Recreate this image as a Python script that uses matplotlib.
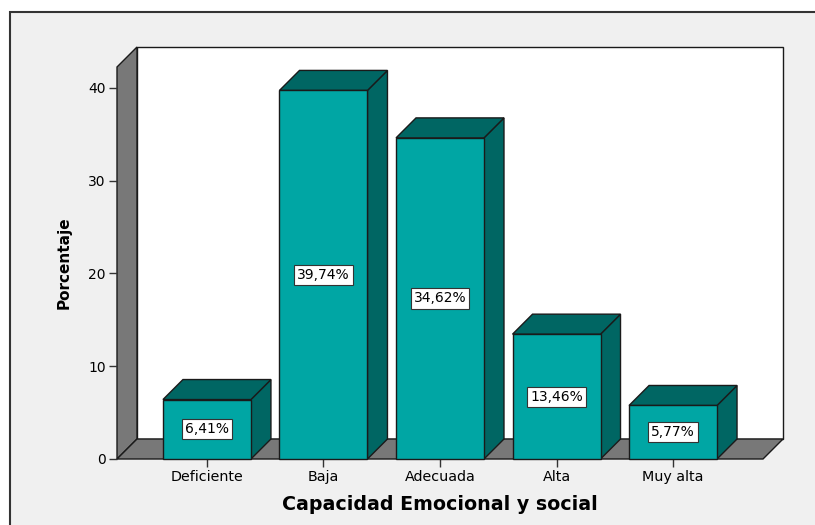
import matplotlib
matplotlib.use("Agg")
import matplotlib.pyplot as plt
from matplotlib.patches import Polygon, Rectangle

plt.rcParams['font.family'] = ['DejaVu Sans']

categories = ['Deficiente', 'Baja', 'Adecuada', 'Alta', 'Muy alta']
values = [6.41, 39.74, 34.62, 13.46, 5.77]
labels = ['6,41%', '39,74%', '34,62%', '13,46%', '5,77%']
yticks = [0, 10, 20, 30, 40]

W, H = 815, 525
C_FRONT = '#00a6a4'
C_DARK = '#006663'
C_WALL = '#787878'
C_BG = '#f0f0f0'
EDGE = '#1a1a1a'

# pixel geometry of the front plane
px_left, px_right, px_bottom, px_top = 117, 763, 459, 67
px_per_unit = 92.75 / 10
xmin, xmax = -0.772, 4.772
ytop = (px_bottom - px_top) / px_per_unit
dx = 20 / ((px_right - px_left) / (xmax - xmin))
dy = 20 / px_per_unit
bw = 0.755

fig = plt.figure(figsize=(W / 100, H / 100), dpi=100)
fig.patch.set_facecolor('white')
fig.add_artist(Rectangle((10 / W, -0.01), 1.0, (H - 12) / H + 0.01,
                         transform=fig.transFigure, fc=C_BG, ec='#333333',
                         lw=1.5, zorder=-10))

ax = fig.add_axes([px_left / W, (H - px_bottom) / H,
                   (px_right - px_left) / W, (px_bottom - px_top) / H])
ax.set_xlim(xmin, xmax)
ax.set_ylim(0, ytop)
ax.patch.set_visible(False)
for s in ax.spines.values():
    s.set_visible(False)


def poly(pts, fc, z=1):
    ax.add_patch(Polygon(pts, closed=True, fc=fc, ec=EDGE, lw=1.0,
                         clip_on=False, zorder=z, joinstyle='miter'))


# back wall, left wall, floor
poly([(xmin + dx, dy), (xmax + dx, dy), (xmax + dx, ytop + dy), (xmin + dx, ytop + dy)], 'white', 0)
poly([(xmin, 0), (xmin + dx, dy), (xmin + dx, ytop + dy), (xmin, ytop)], C_WALL, 1)
poly([(xmin, 0), (xmax, 0), (xmax + dx, dy), (xmin + dx, dy)], C_WALL, 1)

for i, (v, lab) in enumerate(zip(values, labels)):
    x0, x1 = i - bw / 2, i + bw / 2
    poly([(x1, 0), (x1 + dx, dy), (x1 + dx, v + dy), (x1, v)], C_DARK, 3)
    poly([(x0, v), (x1, v), (x1 + dx, v + dy), (x0 + dx, v + dy)], C_DARK, 3)
    poly([(x0, 0), (x1, 0), (x1, v), (x0, v)], C_FRONT, 4)
    ax.text(i, v / 2, lab, ha='center', va='center', fontsize=10, zorder=6,
            bbox=dict(boxstyle='square,pad=0.22', fc='white', ec='#333333', lw=0.8))

ax.set_xticks(range(len(categories)))
ax.set_xticklabels(categories, fontsize=10.3)
ax.set_yticks(yticks)
ax.set_yticklabels([str(t) for t in yticks], fontsize=10)
ax.tick_params(axis='both', length=6, width=1, color='#333333', pad=2)

ax.set_xlabel('Capacidad Emocional y social', fontsize=13.7, fontweight='bold', labelpad=8)
ax.set_ylabel('Porcentaje', fontsize=11, fontweight='bold', labelpad=12)

fig.savefig('out.png', dpi=100, facecolor=fig.get_facecolor())
